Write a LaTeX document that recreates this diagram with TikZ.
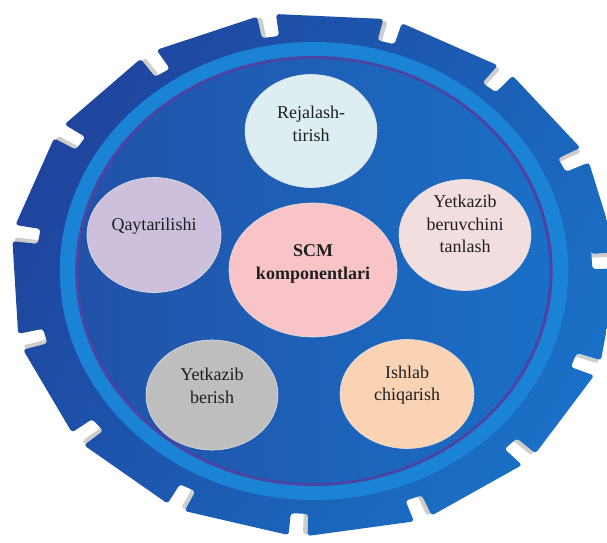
\documentclass[tikz,border=0pt]{standalone}
\usepackage{xcolor}
\usepackage{fontspec}
\setmainfont{Liberation Serif}
\usepackage{tikz}
\usetikzlibrary{shapes.geometric,positioning}
\definecolor{gearDark}{HTML}{1F439C}
\definecolor{gearLight}{HTML}{1A72C8}
\definecolor{ringBlue}{HTML}{1A83D5}
\definecolor{rimPurple}{HTML}{4A45A3}
\definecolor{diskDark}{HTML}{2152A8}
\definecolor{diskLight}{HTML}{1A6FC6}
\definecolor{toothShadow}{HTML}{CDCDCD}
\definecolor{planFill}{HTML}{DDEEF3}
\definecolor{returnFill}{HTML}{CDC0DC}
\definecolor{scmFill}{HTML}{F9C4C7}
\definecolor{supplierFill}{HTML}{F2DEDF}
\definecolor{deliveryFill}{HTML}{BEBEBE}
\definecolor{makeFill}{HTML}{FAD3B5}
\newcommand{\gearoutline}{(4.8:240) foreach \k in {0,...,14} {-- ({4.8+24*\k}:262) -- ({25.2+24*\k}:262) -- ({25.2+24*\k}:240) -- ({28.8+24*\k}:240)} -- cycle}
\tikzset{
  ball/.style={ellipse, draw=white!88!black, line width=0.6pt, minimum width=132pt, minimum height=113pt, inner sep=0pt},
  bigball/.style={ball, minimum width=168pt, minimum height=134pt},
  lbl/.style={align=center, text=black!88, yshift=9pt, font=\fontsize{18}{22.5}\selectfont}
}

\begin{document}
\begin{tikzpicture}[x=1pt, y=1pt]
  \useasboundingbox (0,0) rectangle (607,542);
  \begin{scope}[shift={(314,268)}, xscale=1.16]
    \fill[toothShadow, rotate=-0.9, scale=0.995, rounded corners=3pt] \gearoutline;
    \begin{scope}
      \clip[rounded corners=3pt] \gearoutline;
      \shade[top color=gearDark, bottom color=gearLight, shading angle=60] (-280,-280) rectangle (280,280);
    \end{scope}
  \end{scope}
  \begin{scope}[shift={(314,271)}, xscale=1.11]
    \fill[ringBlue] (0,0) circle[radius=229];
    \fill[rimPurple] (0,0) circle[radius=215];
    \shade[left color=diskDark, right color=diskLight] (0,0) circle[radius=212];
  \end{scope}

  \node[ball, fill=planFill] (plan) at (311,411) {};
  \node[ball, fill=returnFill, minimum width=134pt, minimum height=115pt] (return) at (154,307) {};
  \node[bigball, fill=scmFill] (scm) at (313,272) {};
  \node[ball, fill=supplierFill, minimum height=111pt] (supplier) at (465,307) {};
  \node[ball, fill=deliveryFill, minimum height=110pt] (delivery) at (212,147) {};
  \node[ball, fill=makeFill, minimum width=134pt, minimum height=109pt] (make) at (407,148) {};

  \node[lbl, yshift=-2pt] (planText) at (plan) {Rejalash-\\tirish};
  \node[lbl] (returnText) at (return) {Qaytarilishi};
  \node[lbl, yshift=-3pt, font=\fontsize{18}{22.5}\selectfont\bfseries] (scmText) at (scm) {SCM\\komponentlari};
  \node[lbl, yshift=2pt] (supplierText) at (supplier) {Yetkazib\\beruvchini\\tanlash};
  \node[lbl] (deliveryText) at (delivery) {Yetkazib\\berish};
  \node[lbl] (makeText) at (make) {Ishlab\\chiqarish};
\end{tikzpicture}
\end{document}
